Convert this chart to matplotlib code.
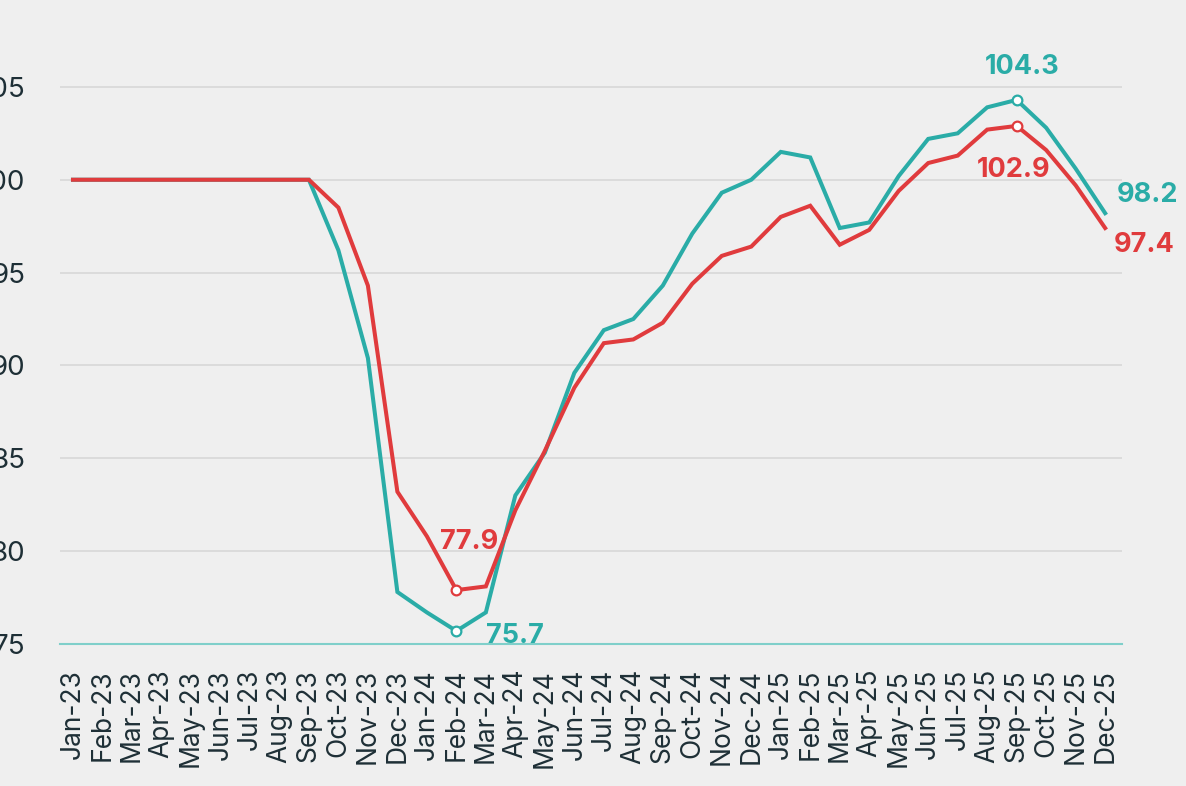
import numpy as np
import matplotlib
matplotlib.use("Agg")
import matplotlib.pyplot as plt

months = ["Jan-23", "Feb-23", "Mar-23", "Apr-23", "May-23", "Jun-23", "Jul-23",
          "Aug-23", "Sep-23", "Oct-23", "Nov-23", "Dec-23", "Jan-24", "Feb-24",
          "Mar-24", "Apr-24", "May-24", "Jun-24", "Jul-24", "Aug-24", "Sep-24",
          "Oct-24", "Nov-24", "Dec-24", "Jan-25", "Feb-25", "Mar-25", "Apr-25",
          "May-25", "Jun-25", "Jul-25", "Aug-25", "Sep-25", "Oct-25", "Nov-25",
          "Dec-25"]

teal_values = [100.0, 100.0, 100.0, 100.0, 100.0, 100.0, 100.0, 100.0, 100.0,
               96.2, 90.4, 77.8, 76.7, 75.7, 76.7, 83.0, 85.3, 89.6, 91.9, 92.5,
               94.3, 97.1, 99.3, 100.0, 101.5, 101.2, 97.4, 97.7, 100.2, 102.2,
               102.5, 103.9, 104.3, 102.8, 100.6, 98.2]

red_values = [100.0, 100.0, 100.0, 100.0, 100.0, 100.0, 100.0, 100.0, 100.0,
              98.5, 94.3, 83.2, 80.8, 77.9, 78.1, 82.2, 85.4, 88.8, 91.2, 91.4,
              92.3, 94.4, 95.9, 96.4, 98.0, 98.6, 96.5, 97.3, 99.4, 100.9, 101.3,
              102.7, 102.9, 101.6, 99.7, 97.4]

y_ticks = [75, 80, 85, 90, 95, 100, 105]

teal = "#2aaca7"
red = "#e03b3d"
bg = "#efefef"
text_col = "#1e2f36"

fig = plt.figure(figsize=(11.86, 7.86), dpi=100, facecolor=bg)
ax = fig.add_axes([0.0506, 0.1807, 0.8954, 0.8193])
ax.set_facecolor(bg)

x = np.arange(len(months))
ax.plot(x, teal_values, color=teal, lw=2.9, solid_joinstyle="miter", zorder=3)
ax.plot(x, red_values, color=red, lw=2.9, solid_joinstyle="miter", zorder=4)

# markers on min / max
i_tmin = int(np.argmin(teal_values))
i_rmin = int(np.argmin(red_values))
i_tmax = int(np.argmax(teal_values))
i_rmax = int(np.argmax(red_values))
for i, vals, c in [(i_tmin, teal_values, teal), (i_rmin, red_values, red),
                   (i_tmax, teal_values, teal), (i_rmax, red_values, red)]:
    ax.plot(x[i], vals[i], "o", ms=7, mfc="white", mec=c, mew=1.6, zorder=5)

lab_font = dict(family=["Inter", "DejaVu Sans"], fontsize=19.5, fontweight="bold")
ax.annotate(f"{teal_values[i_tmax]:.1f}", (x[i_tmax], teal_values[i_tmax]),
            xytext=(4, 24), textcoords="offset points", ha="center",
            va="center", color=teal, **lab_font)
ax.annotate(f"{red_values[i_rmax]:.1f}", (x[i_rmax], red_values[i_rmax]),
            xytext=(-2, -32), textcoords="offset points", ha="center",
            va="center", color=red, **lab_font)
ax.annotate(f"{red_values[i_rmin]:.1f}", (x[i_rmin], red_values[i_rmin]),
            xytext=(-11.5, 35), textcoords="offset points", ha="left",
            va="center", color=red, **lab_font)
ax.annotate(f"{teal_values[i_tmin]:.1f}", (x[i_tmin], teal_values[i_tmin]),
            xytext=(21.5, -3.5), textcoords="offset points", ha="left",
            va="center", color=teal, annotation_clip=False, clip_on=True,
            **lab_font)
ax.annotate(f"{teal_values[-1]:.1f}", (x[-1], teal_values[-1]),
            xytext=(8, 13), textcoords="offset points", ha="left",
            va="center", color=teal, annotation_clip=False, **lab_font)
ax.annotate(f"{red_values[-1]:.1f}", (x[-1], red_values[-1]),
            xytext=(6, -12), textcoords="offset points", ha="left",
            va="center", color=red, annotation_clip=False, **lab_font)

ax.set_xlim(-0.44, 35.57)
ax.set_ylim(75, 109.68)
ax.set_xticks(x)
ax.set_xticklabels(months, rotation=90, fontsize=19, color=text_col,
                   family=["Inter", "DejaVu Sans"])
ax.set_yticks(y_ticks)
ax.set_yticklabels([str(v) for v in y_ticks], fontsize=20, color=text_col,
                   family=["Inter", "DejaVu Sans"])
ax.tick_params(axis="x", length=0, pad=18)
ax.tick_params(axis="y", length=0, pad=25)

ax.grid(axis="y", color="#d9d9d9", lw=1.3)
ax.set_axisbelow(True)
for s in ["top", "right", "left"]:
    ax.spines[s].set_visible(False)
ax.spines["bottom"].set_color("#7fcfca")
ax.spines["bottom"].set_linewidth(1.5)

fig.savefig("out.png", dpi=100, facecolor=bg)
